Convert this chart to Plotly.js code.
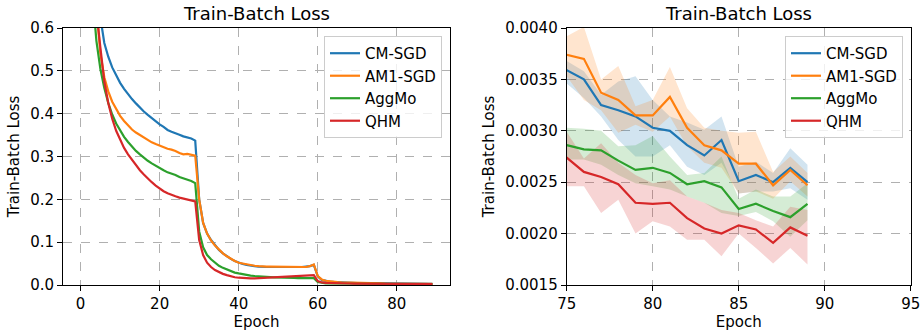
<!DOCTYPE html>
<html>
<head>
<meta charset="utf-8">
<script src="https://cdn.plot.ly/plotly-3.0.1.min.js"></script>
<style>html,body{margin:0;padding:0;background:#fff;}#chart{width:920px;height:331px;}</style>
</head>
<body>
<div id="chart"></div>
<script>
// Series names and colours
const seriesNames = ["CM-SGD", "AM1-SGD", "AggMo", "QHM"];
const seriesColors = ["#1f77b4", "#ff7f0e", "#2ca02c", "#d62728"];
const seriesFills = ["rgba(31,119,180,0.2)", "rgba(255,127,14,0.2)", "rgba(44,160,44,0.2)", "rgba(214,39,40,0.2)"];

// Mean train-batch loss per epoch (0..89)
const cmSgd = [2.3,1.7,1.25,0.97,0.76,0.625,0.565,0.533,0.508,0.488,
  0.472,0.458,0.445,0.434,0.424,0.414,0.405,0.397,0.389,0.381,
  0.375,0.369,0.362,0.358,0.355,0.351,0.347,0.344,0.342,0.337,
  0.2,0.145,0.12,0.105,0.093,0.082,0.074,0.067,0.061,0.056,
  0.052,0.049,0.047,0.045,0.044,0.043,0.042,0.042,0.042,0.042,
  0.042,0.042,0.041,0.041,0.041,0.041,0.042,0.043,0.044,0.047,
  0.02,0.012,0.0095,0.008,0.0072,0.0065,0.006,0.0056,0.0052,0.0049,
  0.0046,0.0044,0.0042,0.004,0.0038,
  0.00359,0.00350,0.00325,0.00320,0.00314,0.00303,0.00300,0.00286,0.00276,0.00291,0.00251,0.00257,0.00250,0.00264,0.00250];
const am1Sgd = [2.3,1.6,1.15,0.85,0.65,0.54,0.485,0.452,0.428,0.41,
  0.395,0.383,0.372,0.363,0.356,0.35,0.344,0.338,0.333,0.329,
  0.325,0.321,0.318,0.316,0.313,0.308,0.305,0.306,0.304,0.302,
  0.2,0.145,0.12,0.104,0.092,0.082,0.074,0.067,0.061,0.056,
  0.052,0.05,0.048,0.046,0.045,0.044,0.043,0.043,0.043,0.043,
  0.043,0.043,0.043,0.043,0.043,0.043,0.043,0.042,0.044,0.048,
  0.021,0.013,0.01,0.0085,0.0075,0.0068,0.0062,0.0058,0.0054,0.005,
  0.0048,0.0046,0.0043,0.0041,0.0039,
  0.00374,0.00370,0.00337,0.00330,0.00315,0.00315,0.00333,0.00303,0.00286,0.00281,0.00268,0.00268,0.00247,0.00262,0.00247];
const aggMo = [2.2,1.4,0.95,0.68,0.57,0.505,0.46,0.425,0.398,0.377,
  0.36,0.346,0.334,0.323,0.313,0.305,0.297,0.29,0.284,0.278,
  0.273,0.268,0.263,0.26,0.257,0.252,0.249,0.245,0.243,0.238,
  0.125,0.088,0.07,0.06,0.052,0.045,0.04,0.036,0.032,0.029,
  0.027,0.025,0.023,0.022,0.021,0.02,0.0195,0.019,0.0185,0.018,
  0.018,0.0175,0.017,0.017,0.0165,0.016,0.016,0.0158,0.0155,0.016,
  0.007,0.0045,0.0038,0.0035,0.0034,0.0033,0.0032,0.0032,0.0031,0.0031,
  0.003,0.003,0.003,0.0029,0.0029,
  0.00286,0.00282,0.00281,0.00271,0.00262,0.00264,0.00259,0.00248,0.00251,0.00245,0.00224,0.00229,0.00222,0.00216,0.00229];
const qhm = [2.3,1.6,1.1,0.82,0.64,0.555,0.475,0.425,0.388,0.36,
  0.338,0.32,0.305,0.292,0.28,0.268,0.258,0.248,0.24,0.232,
  0.225,0.219,0.214,0.21,0.207,0.204,0.202,0.2,0.198,0.195,
  0.105,0.07,0.052,0.042,0.035,0.03,0.026,0.023,0.02,0.018,
  0.017,0.016,0.0155,0.0155,0.0155,0.016,0.016,0.0165,0.017,0.0175,
  0.018,0.018,0.0185,0.019,0.0195,0.02,0.0205,0.021,0.022,0.023,
  0.009,0.006,0.005,0.0045,0.0042,0.004,0.0038,0.0036,0.0035,0.0034,
  0.0033,0.0032,0.0031,0.003,0.0029,
  0.00274,0.00260,0.00255,0.00248,0.00230,0.00229,0.00230,0.00215,0.00205,0.00200,0.00208,0.00204,0.00191,0.00206,0.00198];

// Spread bands for the zoomed view, epochs 75..89
const bandEpochs = [75,76,77,78,79,80,81,82,83,84,85,86,87,88,89];
const cmUpper  = [0.00368,0.00358,0.00335,0.00348,0.00353,0.00330,0.00314,0.00308,0.00301,0.00314,0.00265,0.00270,0.00259,0.00283,0.00267];
const cmLower  = [0.00346,0.00332,0.00314,0.00291,0.00275,0.00275,0.00286,0.00265,0.00257,0.00269,0.00239,0.00241,0.00241,0.00244,0.00233];
const am1Upper = [0.00392,0.00401,0.00350,0.00363,0.00324,0.00330,0.00362,0.00322,0.00303,0.00300,0.00298,0.00299,0.00260,0.00275,0.00259];
const am1Lower = [0.00353,0.00330,0.00320,0.00298,0.00306,0.00299,0.00314,0.00285,0.00269,0.00264,0.00239,0.00241,0.00234,0.00251,0.00236];
const aggUpper = [0.00303,0.00302,0.00300,0.00285,0.00286,0.00295,0.00275,0.00257,0.00259,0.00275,0.00234,0.00243,0.00236,0.00236,0.00249];
const aggLower = [0.00272,0.00272,0.00267,0.00257,0.00249,0.00246,0.00243,0.00236,0.00230,0.00220,0.00217,0.00221,0.00212,0.00197,0.00213];
const qhmUpper = [0.00299,0.00273,0.00288,0.00269,0.00257,0.00249,0.00252,0.00236,0.00230,0.00223,0.00220,0.00213,0.00207,0.00226,0.00223];
const qhmLower = [0.00246,0.00246,0.00220,0.00233,0.00200,0.00212,0.00207,0.00194,0.00194,0.00178,0.00200,0.00186,0.00171,0.00186,0.00170];

// Tick labels
const leftXTicks = [0,20,40,60,80];
const leftYTicks = [0.0,0.1,0.2,0.3,0.4,0.5,0.6];
const rightXTicks = [75,80,85,90,95];
const rightYTicks = [0.0015,0.0020,0.0025,0.0030,0.0035,0.0040];

const means = [cmSgd, am1Sgd, aggMo, qhm];
const uppers = [cmUpper, am1Upper, aggUpper, qhmUpper];
const lowers = [cmLower, am1Lower, aggLower, qhmLower];
const epochs = cmSgd.map((_, i) => i);

const traces = [];
// bands (right panel)
for (let k = 0; k < 4; k++) {
  traces.push({
    x: bandEpochs.concat(bandEpochs.slice().reverse()),
    y: uppers[k].concat(lowers[k].slice().reverse()),
    xaxis: 'x2', yaxis: 'y2', type: 'scatter', mode: 'lines',
    fill: 'toself', fillcolor: seriesFills[k], line: {width: 0},
    showlegend: false, hoverinfo: 'skip'
  });
}
for (let k = 0; k < 4; k++) {
  traces.push({
    x: epochs, y: means[k], xaxis: 'x', yaxis: 'y', type: 'scatter', mode: 'lines',
    name: seriesNames[k], line: {color: seriesColors[k], width: 2.2},
    legend: 'legend'
  });
}
for (let k = 0; k < 4; k++) {
  traces.push({
    x: epochs, y: means[k], xaxis: 'x2', yaxis: 'y2', type: 'scatter', mode: 'lines',
    name: seriesNames[k], line: {color: seriesColors[k], width: 2.2},
    legend: 'legend2'
  });
}

const font = {family: 'DejaVu Sans', size: 15, color: '#000'};
const axisCommon = {
  showline: true, mirror: true, linecolor: '#000', linewidth: 1,
  ticks: 'outside', ticklen: 5, tickcolor: '#000', tickwidth: 1,
  showgrid: true, gridcolor: '#b0b0b0', griddash: 'dash', gridwidth: 1,
  zeroline: false, tickfont: font, ticklabeloverflow: 'allow'
};
const W = 920;
const legendCommon = {
  bgcolor: 'rgba(255,255,255,0.8)', bordercolor: '#cccccc', borderwidth: 1,
  font: font, xanchor: 'right', yanchor: 'top',
  traceorder: 'normal', itemwidth: 30
};

const layout = {
  width: 920, height: 331,
  margin: {l: 0, r: 0, t: 28, b: 46},
  paper_bgcolor: '#fff', plot_bgcolor: '#fff',
  font: font,
  showlegend: true,
  xaxis: Object.assign({}, axisCommon, {
    domain: [63 / W, 450 / W], range: [-4.45, 93.45],
    tickmode: 'array', tickvals: leftXTicks, ticktext: leftXTicks.map(String),
    title: {text: 'Epoch', font: font, standoff: 6}, anchor: 'y'
  }),
  yaxis: Object.assign({}, axisCommon, {
    range: [0, 0.6], tickmode: 'array', tickvals: leftYTicks,
    ticktext: leftYTicks.map(v => v.toFixed(1)),
    title: {text: 'Train-Batch Loss', font: font, standoff: 6}, anchor: 'x'
  }),
  xaxis2: Object.assign({}, axisCommon, {
    domain: [566.7 / W, 910.7 / W], range: [75, 95],
    tickmode: 'array', tickvals: rightXTicks, ticktext: rightXTicks.map(String),
    title: {text: 'Epoch', font: font, standoff: 6}, anchor: 'y2'
  }),
  yaxis2: Object.assign({}, axisCommon, {
    range: [0.0015, 0.0040], tickmode: 'array', tickvals: rightYTicks,
    ticktext: rightYTicks.map(v => v.toFixed(4)),
    title: {text: 'Train-Batch Loss', font: font, standoff: 6}, anchor: 'x2'
  }),
  legend: Object.assign({}, legendCommon, {x: 442 / W, y: 0.969, xref: 'paper'}),
  legend2: Object.assign({}, legendCommon, {x: 903 / W, y: 0.969, xref: 'paper'}),
  annotations: [
    {text: 'Train-Batch Loss', xref: 'paper', yref: 'paper', x: (63 + 450) / 2 / W, y: 1,
     yshift: 2, xanchor: 'center', yanchor: 'bottom', showarrow: false,
     font: {family: 'DejaVu Sans', size: 18, color: '#000'}},
    {text: 'Train-Batch Loss', xref: 'paper', yref: 'paper', x: (566.7 + 910.7) / 2 / W, y: 1,
     yshift: 2, xanchor: 'center', yanchor: 'bottom', showarrow: false,
     font: {family: 'DejaVu Sans', size: 18, color: '#000'}}
  ]
};

Plotly.newPlot('chart', traces, layout, {displayModeBar: false, staticPlot: true});
</script>
</body>
</html>
